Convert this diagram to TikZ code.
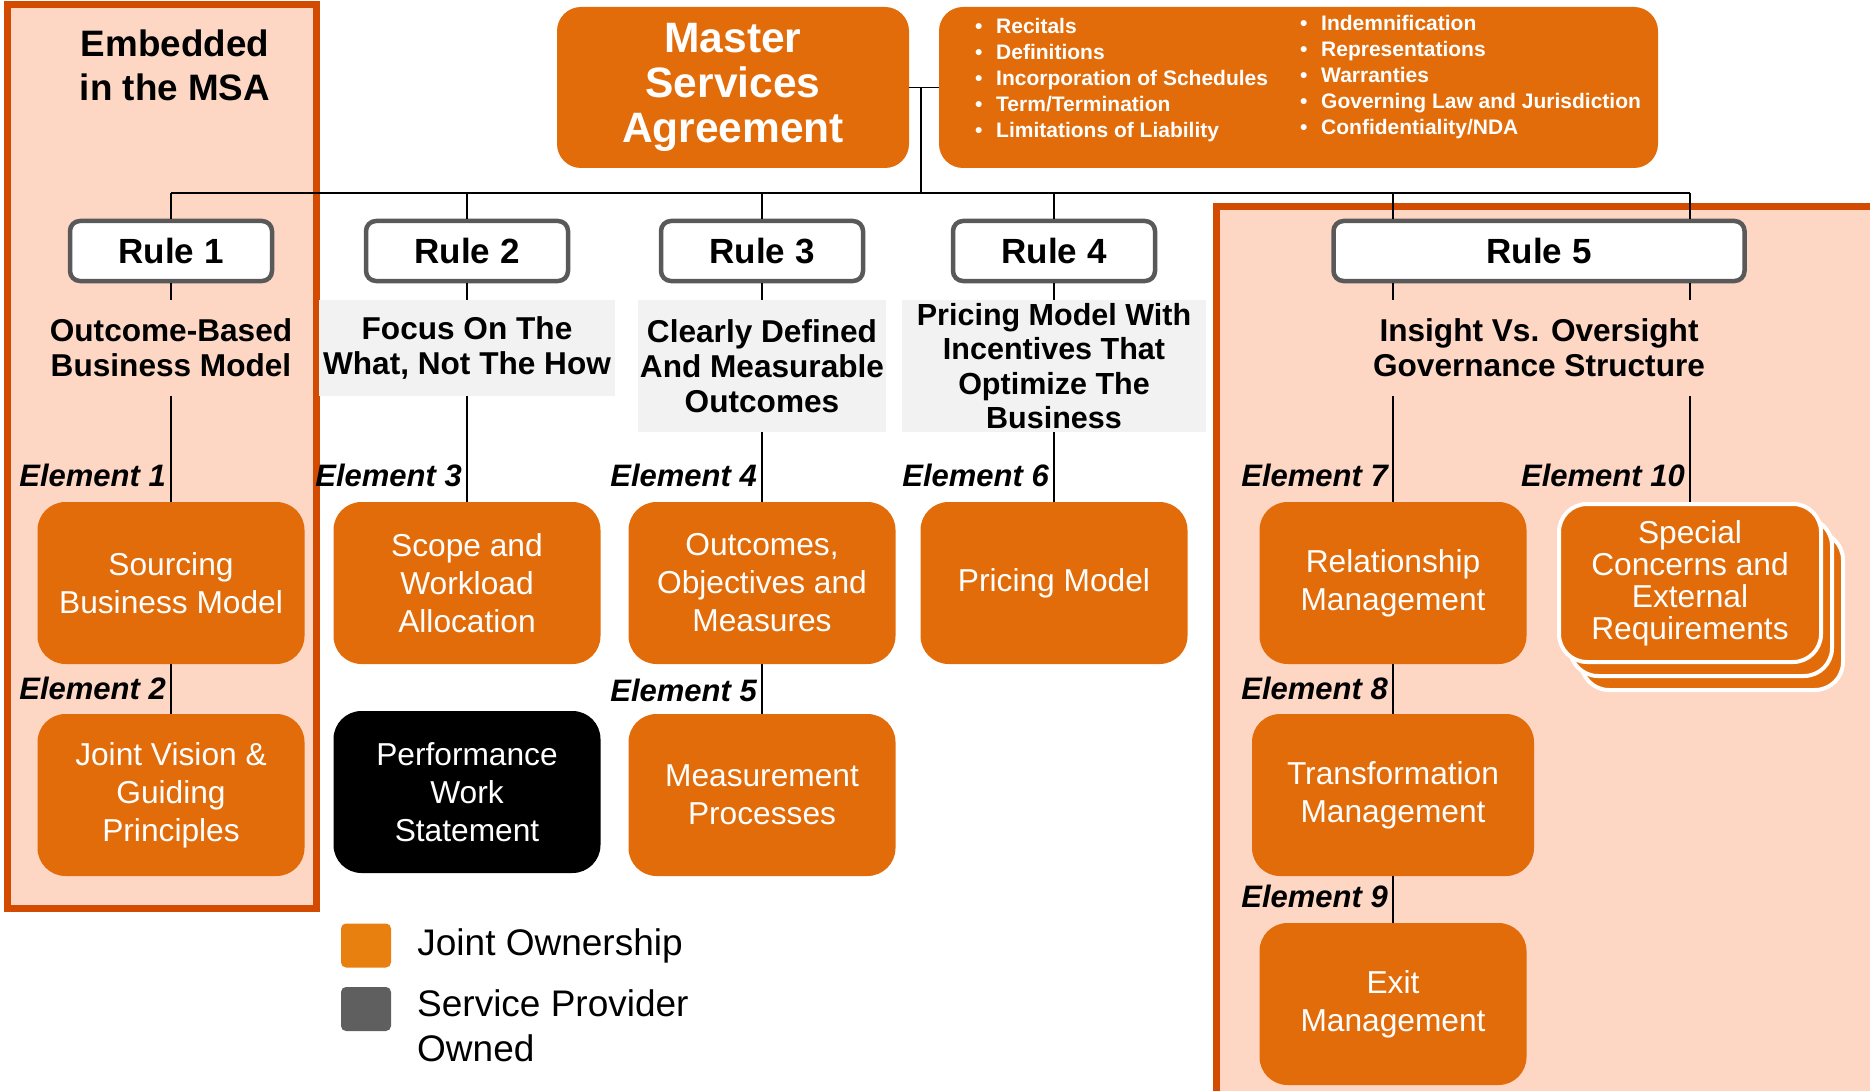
\documentclass[tikz,border=0pt]{standalone}
\usepackage{fontspec}
\setmainfont{Liberation Sans}
\usepackage{tikz}
\usetikzlibrary{positioning}
\usetikzlibrary{shadows}
\definecolor{joint}{HTML}{E36C0A}
\definecolor{legend joint}{HTML}{E8800F}
\definecolor{provider}{HTML}{5F5F5F}
\definecolor{panel fill}{HTML}{FDD6C4}
\definecolor{panel edge}{HTML}{D24B00}
\definecolor{rule edge}{HTML}{595959}
\definecolor{heading fill}{HTML}{F2F2F2}
\tikzstyle{element}=[fill=joint,rounded corners=28pt,minimum width=267pt,minimum height=162pt,align=center,text=white,font=\fontsize{31.7}{38}\selectfont]
\tikzstyle{el label}=[anchor=east,inner sep=0pt,font=\fontsize{31}{36}\selectfont\bfseries\itshape]
\newcommand{\clauseitem}[1]{\makebox[21pt][l]{\textbullet}#1}

\begin{document}
\begin{tikzpicture}[
  x=1pt, y=-1pt,
  link/.style={line width=1.6pt},
  panel/.style={draw=panel edge,line width=7pt,fill=panel fill},
  rule box/.style={draw=rule edge,line width=4.5pt,fill=white,rounded corners=10pt,minimum width=202pt,minimum height=60pt,inner sep=0pt,font=\fontsize{35}{40}\selectfont\bfseries},
  heading/.style={align=center,minimum height=96pt,inner sep=0pt,font=\fontsize{31.6}{35}\selectfont\bfseries},
  grey heading/.style={heading,fill=heading fill},
  msa box/.style={fill=joint,rounded corners=24pt,minimum height=161pt,text=white},
  clause list/.style={anchor=west,align=left,inner sep=0pt,text=white,font=\fontsize{21}{26}\selectfont\bfseries},
  stack/.style={element,draw=white,line width=4pt,minimum width=262pt,minimum height=158pt,font=\fontsize{31.7}{32}\selectfont,double copy shadow={shadow xshift=11pt,shadow yshift=-14pt}},
  key/.style={rounded corners=5pt,minimum width=50pt,minimum height=44pt,inner sep=0pt},
  key text/.style={anchor=west,align=left,inner sep=0pt,font=\fontsize{37}{45}\selectfont},
]
\useasboundingbox (0,0) rectangle (1870,1091);

% the two shaded panels
\draw[panel] (7.5,4.5) rectangle (316.5,908);
\draw[panel] (1216.5,206.5) rectangle (1885,1100);
\node[align=center,font=\fontsize{36.8}{44}\selectfont\bfseries] (embedded) at (175,65) {Embedded\\in the MSA};

% top: the agreement and its clauses
\node[msa box,minimum width=352pt,align=center,font=\fontsize{42.5}{45}\selectfont\bfseries] (msa) at (733,87.5) {Master\\Services\\Agreement};
\node[msa box,minimum width=719pt] (clauses) at (1298.5,87.5) {};
\node[clause list] (clausesA) at (975,80) {\clauseitem{Recitals}\\\clauseitem{Definitions}\\\clauseitem{Incorporation of Schedules}\\\clauseitem{Term/Termination}\\\clauseitem{Limitations of Liability}};
\node[clause list] (clausesB) at (1300,77) {\clauseitem{Indemnification}\\\clauseitem{Representations}\\\clauseitem{Warranties}\\\clauseitem{Governing Law and Jurisdiction}\\\clauseitem{Confidentiality/NDA}};

\coordinate (hub) at (921,87.5);
\coordinate (busL) at (171,193);
\coordinate (busR) at (1690,193);

% rules
\foreach \n/\x in {1/171,2/467,3/762,4/1054}
  \node[rule box] (rule\n) at (\x,251) {Rule \n};
\node[rule box,minimum width=411pt] (rule5) at (1539,251) {Rule 5};

\node[heading] (aim1) at (171,348) {Outcome-Based\\Business Model};
\node[grey heading,minimum width=296pt] (aim2) at (467,348) {Focus On The\\What, Not The How};
\node[grey heading,minimum width=248pt,minimum height=132pt] (aim3) at (762,366) {Clearly Defined\\And Measurable\\Outcomes};
\node[grey heading,minimum width=304pt,minimum height=132pt,font=\fontsize{30.5}{34.5}\selectfont\bfseries] (aim4) at (1054,366) {Pricing Model With\\Incentives That\\Optimize The\\Business};
\node[heading] (aim5) at (1539,348) {Insight Vs. Oversight\\Governance Structure};

% elements
\node[element] (sourcing) at (171,583) {Sourcing\\Business Model};
\node[element] (vision) at (171,795) {Joint Vision \&\\Guiding\\Principles};
\node[element] (scope) at (467,583) {Scope and\\Workload\\Allocation};
\node[element,fill=black] (pws) at (467,792) {Performance\\Work\\Statement};
\node[element] (outcomes) at (762,583) {Outcomes,\\Objectives and\\Measures};
\node[element] (measure) at (762,795) {Measurement\\Processes};
\node[element] (pricing) at (1054,583) {Pricing Model};
\node[element] (relation) at (1393,583) {Relationship\\Management};
\node[element,minimum width=282pt] (transform) at (1393,795) {Transformation\\Management};
\node[element] (exit) at (1393,1004) {Exit\\Management};
\node[stack] (concerns) at (1690,583) {Special\\Concerns and\\External\\Requirements};

\node[el label] (e1) at (166,475) {Element 1};
\node[el label] (e2) at (166,688) {Element 2};
\node[el label] (e3) at (462,475) {Element 3};
\node[el label] (e4) at (757,475) {Element 4};
\node[el label] (e5) at (757,690) {Element 5};
\node[el label] (e6) at (1049,475) {Element 6};
\node[el label] (e7) at (1388,475) {Element 7};
\node[el label] (e8) at (1388,688) {Element 8};
\node[el label] (e9) at (1388,896) {Element 9};
\node[el label] (e10) at (1685,475) {Element 10};

% connectors
\draw[link] (msa.east) -- (clauses.west);
\draw[link] (hub) -- (hub |- busL);
\draw[link] (busL) -- (busR);
\foreach \n/\e in {1/sourcing,2/scope,3/outcomes,4/pricing} {
  \draw[link] (rule\n.north |- busL) -- (rule\n.north);
  \draw[link] (rule\n.south) -- (aim\n.north);
  \draw[link] (aim\n.south) -- (\e.north);
}
\foreach \e in {relation,concerns} {
  \draw[link] (\e.north |- busL) -- (\e.north |- rule5.north);
  \draw[link] (\e.north |- rule5.south) -- (\e.north |- aim5.north);
  \draw[link] (\e.north |- aim5.south) -- (\e.north);
}
\draw[link] (sourcing) -- (vision);
\draw[link] (outcomes) -- (measure);
\draw[link] (relation) -- (transform);
\draw[link] (transform) -- (exit);

% legend
\node[key,fill=legend joint] (keyjoint) at (366,945.5) {};
\node[key,fill=provider] (keyprovider) at (366,1009) {};
\node[key text,right=26pt of keyjoint] (jointtxt) {Joint Ownership};
\node[key text] (providertxt) at (417,1025.5) {Service Provider\\Owned};
\end{tikzpicture}
\end{document}
